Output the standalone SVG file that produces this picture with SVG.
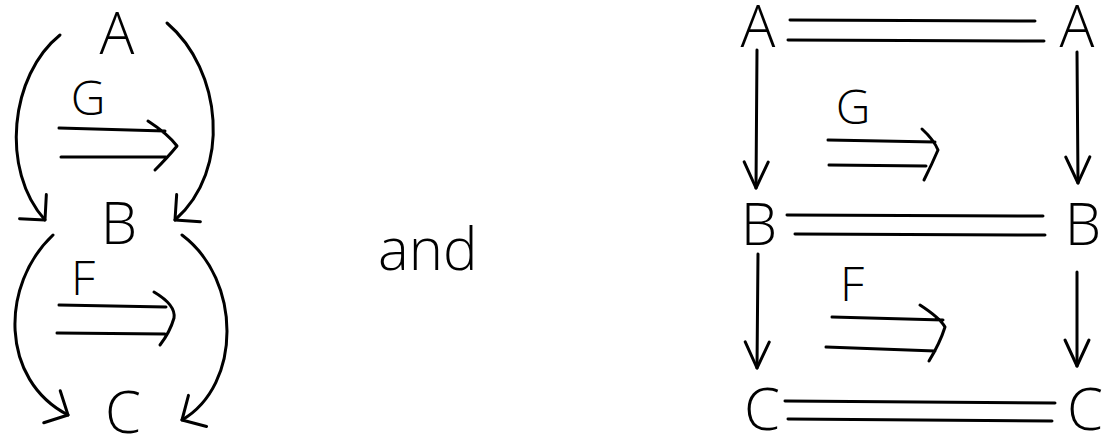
<svg xmlns="http://www.w3.org/2000/svg" width="1103" height="442" viewBox="0 0 1103 442">
  <style>
    .ln { fill: none; stroke: #000; stroke-width: 3; stroke-linecap: round; stroke-linejoin: round; }
    .big { font-family: "Open Sans", "Liberation Sans", sans-serif; font-weight: 300; font-size: 58px; fill: #000; text-anchor: middle; }
    .lbl { font-family: "Open Sans", "Liberation Sans", sans-serif; font-weight: 300; font-size: 48px; fill: #000; text-anchor: middle; }
    .word { font-family: "Open Sans", "Liberation Sans", sans-serif; font-weight: 300; font-size: 58px; fill: #000; }
  </style>
  <defs>
    <!-- wide open chevron for the curved arrows -->
    <marker id="wide" viewBox="0 0 22 40" refX="20" refY="20" markerWidth="22" markerHeight="40" markerUnits="userSpaceOnUse" orient="auto">
      <path d="M2,2 L20,20 L2,38" fill="none" stroke="#000" stroke-width="3" stroke-linecap="round" stroke-linejoin="round"/>
    </marker>
    <!-- narrower open chevron for the straight vertical arrows -->
    <marker id="vee" viewBox="0 0 30 28" refX="28" refY="14" markerWidth="30" markerHeight="28" markerUnits="userSpaceOnUse" orient="auto">
      <path d="M2,2 L28,14 L2,26" fill="none" stroke="#000" stroke-width="3" stroke-linecap="round" stroke-linejoin="round"/>
    </marker>
  </defs>

  <!-- left picture: objects -->
  <g id="left-A"><text class="big" x="117" y="54">A</text></g>
  <g id="left-B"><text class="big" x="119" y="244">B</text></g>
  <g id="left-C"><text class="big" x="123" y="433">C</text></g>
  <g id="left-G"><text class="lbl" x="88" y="115">G</text></g>
  <g id="left-F"><text class="lbl" x="83" y="295">F</text></g>

  <!-- centre word -->
  <g id="and"><text class="word" x="378" y="270">and</text></g>

  <!-- right picture: objects -->
  <g id="right-A1"><text class="big" x="758" y="47">A</text></g>
  <g id="right-A2"><text class="big" x="1077" y="47">A</text></g>
  <g id="right-B1"><text class="big" x="759" y="245">B</text></g>
  <g id="right-B2"><text class="big" x="1083" y="245">B</text></g>
  <g id="right-C1"><text class="big" x="762" y="430">C</text></g>
  <g id="right-C2"><text class="big" x="1085" y="430">C</text></g>
  <g id="right-G"><text class="lbl" x="853" y="124">G</text></g>
  <g id="right-F"><text class="lbl" x="852" y="301">F</text></g>

  <g id="connectors">
    <!-- left picture: curved arrows -->
    <path class="ln" d="M60,35 C10,75 0,170 45,220" marker-end="url(#wide)"/>
    <path class="ln" d="M167,23 C222,70 232,170 175,220" marker-end="url(#wide)"/>
    <path class="ln" d="M53,235 C0,285 0,380 68,415" marker-end="url(#wide)"/>
    <path class="ln" d="M182,235 C242,280 242,385 182,420" marker-end="url(#wide)"/>

    <!-- left picture: double arrows -->
    <path class="ln" d="M59,128 L165,131 M61,157 L166,157 M148,121 Q168,134 177,146 Q168,157 155,170"/>
    <path class="ln" d="M59,305 L166,307 M57,333 L165,334 M154,292 Q176,305 174,318 Q170,332 160,345"/>

    <!-- right picture: equality pairs -->
    <path class="ln" d="M790,20 L1035,21 M788,40 L1044,41"/>
    <path class="ln" d="M787,215 L1043,216 M795,234 L1045,235"/>
    <path class="ln" d="M785,401 L1055,403 M788,419 L1052,421"/>

    <!-- right picture: vertical arrows -->
    <path class="ln" d="M757,50 L756,188" marker-end="url(#vee)"/>
    <path class="ln" d="M1077,52 L1078,183" marker-end="url(#vee)"/>
    <path class="ln" d="M758,254 L757,368" marker-end="url(#vee)"/>
    <path class="ln" d="M1077,272 L1077,366" marker-end="url(#vee)"/>

    <!-- right picture: double arrows -->
    <path class="ln" d="M828,140 L935,142 M829,165 L926,166 M922,129 Q934,140 938,150 Q932,164 924,180"/>
    <path class="ln" d="M832,317 L943,320 M826,347 L935,351 M920,305 Q940,318 945,327 Q940,343 929,361"/>
  </g>
</svg>
